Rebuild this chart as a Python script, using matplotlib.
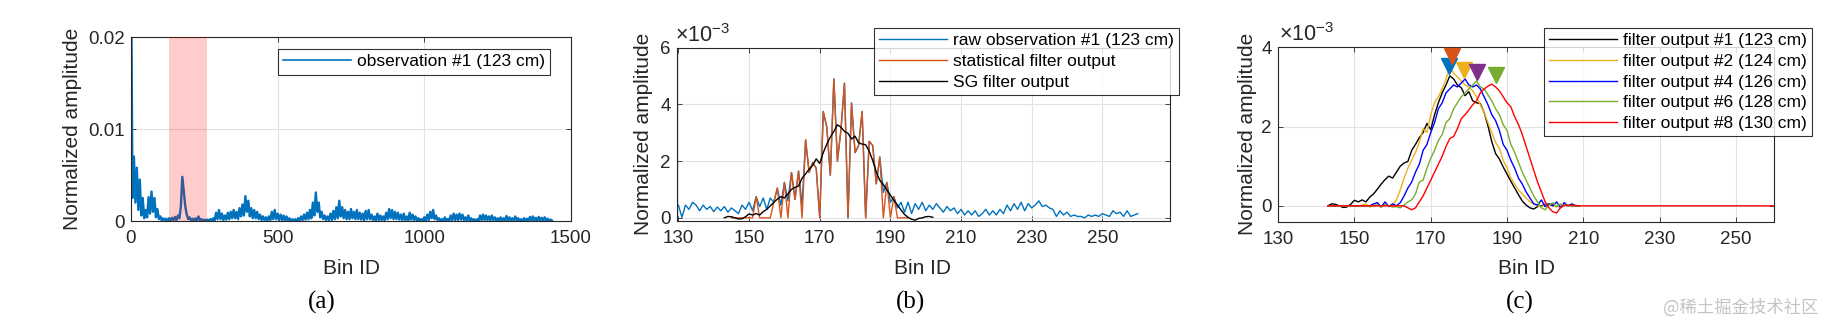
import numpy as np
import matplotlib
matplotlib.use("Agg")
import matplotlib.pyplot as plt

plt.rcParams['font.family'] = ['Liberation Sans', 'DejaVu Sans']
plt.rcParams['mathtext.fontset'] = 'custom'
plt.rcParams['mathtext.rm'] = 'Liberation Sans'
plt.rcParams['mathtext.it'] = 'Liberation Sans:italic'

# ---------------------------------------------------------------------------
# Data (amplitudes in units of 1e-3)
# ---------------------------------------------------------------------------
# (a) whole observation, sampled every 5 bins
obs_bins = np.arange(0, 1440, 5)
obs_amp = [
    30.0, 2.5, 7.0, 2.0, 5.8, 1.2, 4.5, 0.6, 2.5, 0.3, 1.2, 0.4, 2.6, 0.8, 3.2, 1.0, 2.5, 0.4, 1.3, 0.2,
    0.5, 0.05, 0.3, 0.05, 0.25, 0.05, 0.3, 0.05, 0.35, 0.1, 0.45, 0.1, 0.6, 0.3, 1.6, 4.8, 3.2, 1.6, 0.7, 0.2,
    0.4, 0.05, 0.25, 0.05, 0.3, 0.05, 0.5, 0.1, 0.2, 0.02, 0.15, 0.02, 0.15, 0.02, 0.2, 0.05, 0.3, 0.05, 0.9, 0.2,
    1.2, 0.2, 0.8, 0.1, 0.6, 0.15, 0.9, 0.2, 1.0, 0.3, 1.2, 0.3, 1.0, 0.2, 1.4, 0.5, 1.8, 0.6, 2.7, 1.0,
    2.2, 0.5, 1.4, 0.3, 1.2, 0.3, 1.0, 0.2, 0.7, 0.1, 0.5, 0.1, 0.4, 0.05, 0.5, 0.1, 1.0, 0.2, 1.2, 0.2,
    0.8, 0.1, 0.7, 0.1, 0.6, 0.05, 0.5, 0.05, 0.3, 0.02, 0.2, 0.02, 0.2, 0.02, 0.3, 0.05, 0.5, 0.1, 0.7, 0.15,
    0.9, 0.2, 1.2, 0.3, 2.0, 0.6, 3.1, 1.0, 2.0, 0.4, 1.0, 0.2, 0.6, 0.1, 0.5, 0.1, 0.8, 0.1, 1.1, 0.2,
    1.5, 0.3, 2.2, 0.5, 1.5, 0.3, 1.2, 0.2, 1.0, 0.2, 1.3, 0.3, 1.0, 0.2, 1.2, 0.2, 0.9, 0.15, 0.8, 0.1,
    1.1, 0.2, 1.2, 0.2, 0.7, 0.1, 0.5, 0.05, 0.8, 0.1, 0.6, 0.1, 0.5, 0.1, 0.9, 0.2, 1.3, 0.3, 1.2, 0.2,
    1.0, 0.2, 0.9, 0.15, 0.7, 0.1, 0.8, 0.1, 0.5, 0.05, 0.9, 0.15, 0.7, 0.1, 0.5, 0.05, 0.3, 0.05, 0.2, 0.03,
    0.4, 0.05, 0.7, 0.1, 1.0, 0.3, 1.2, 0.2, 0.6, 0.1, 0.3, 0.03, 0.2, 0.02, 0.4, 0.05, 0.2, 0.03, 0.6, 0.1,
    0.8, 0.1, 0.7, 0.1, 0.8, 0.15, 0.7, 0.1, 0.4, 0.05, 0.6, 0.05, 0.3, 0.03, 0.2, 0.02, 0.2, 0.02, 0.6, 0.1,
    0.7, 0.1, 0.6, 0.1, 0.5, 0.05, 0.6, 0.1, 0.4, 0.05, 0.3, 0.03, 0.4, 0.05, 0.3, 0.05, 0.55, 0.05, 0.4, 0.05,
    0.3, 0.03, 0.5, 0.05, 0.3, 0.03, 0.2, 0.02, 0.3, 0.03, 0.25, 0.02, 0.45, 0.05, 0.5, 0.05, 0.35, 0.03, 0.45, 0.05,
    0.35, 0.03, 0.4, 0.05, 0.25, 0.03, 0.15, 0.05,
]
roi_start, roi_end = 130, 260

# (b) raw observation, statistical filter and Savitzky-Golay filter
raw_bins = np.arange(130, 261)
raw_amp = [
    0.45, 0.02, 0.45, 0.30, 0.55, 0.45, 0.25, 0.45, 0.30, 0.40,
    0.22, 0.38, 0.25, 0.40, 0.20, 0.35, 0.25, 0.15, 0.45, 0.30,
    0.55, 0.25, 0.75, 0.40, 0.70, 0.30, 0.70, 0.55, 1.05, 0.45,
    1.25, 0.60, 1.60, 0.65, 1.65, 0.45, 2.75, 1.60, 1.95, 1.75,
    0.00, 3.75, 3.20, 1.50, 4.90, 2.00, 3.10, 4.75, 0.00, 4.05,
    2.30, 2.55, 3.75, 0.00, 2.70, 2.55, 1.20, 2.15, 0.90, 1.25,
    0.55, 0.75, 0.35, 0.55, 0.20, 0.55, 0.15, 0.50, 0.30, 0.55,
    0.25, 0.45, 0.30, 0.50, 0.35, 0.20, 0.40, 0.25, 0.35, 0.15,
    0.30, 0.10, 0.25, 0.10, 0.25, 0.05, 0.15, 0.30, 0.10, 0.25,
    0.10, 0.30, 0.15, 0.45, 0.25, 0.50, 0.30, 0.55, 0.25, 0.50,
    0.35, 0.45, 0.60, 0.40, 0.45, 0.35, 0.30, 0.05, 0.25, 0.10,
    0.20, 0.05, 0.10, 0.05, 0.05, 0.00, 0.10, 0.05, 0.10, 0.05,
    0.15, 0.10, 0.05, 0.25, 0.15, 0.20, 0.05, 0.25, 0.05, 0.10,
    0.15,
]
stat_bins = np.arange(145, 196)
stat_amp = [
    0, 0, 0, 0, 0,
    0, 0, 0.75, 0, 0, 0, 0, 0.55, 1.05, 0,
    1.25, 0, 1.60, 0.65, 1.65, 0, 2.75, 1.60, 1.95, 1.75,
    0, 3.75, 3.20, 1.50, 4.90, 2.00, 3.10, 4.75, 0, 4.05,
    2.30, 2.55, 3.75, 0, 2.70, 2.55, 1.20, 2.15, 0, 1.25,
    0, 0.75, 0, 0, 0, 0,
]
sg_bins = np.arange(143, 203)
sg_amp = [
    0.00, 0.05, 0.04, 0.00, -0.04, -0.03, 0.04, 0.14, 0.10, 0.15,
    0.10, 0.22, 0.30, 0.42, 0.55, 0.66, 0.75, 0.70, 0.85, 1.00,
    1.08, 1.12, 1.40, 1.55, 1.72, 1.85, 2.08, 1.92, 2.30, 2.60,
    2.85, 3.05, 3.28, 3.20, 3.05, 2.98, 2.78, 2.88, 2.65, 2.60,
    2.58, 2.35, 2.02, 1.62, 1.32, 1.18, 0.98, 0.80, 0.62, 0.45,
    0.28, 0.12, 0.02, -0.05, -0.08, -0.02, 0.00, 0.04, 0.05, 0.02,
]

# (c) filter outputs for successive observations
out_bins = np.arange(143, 210)
out2_amp = [
    0, 0, 0, 0, 0, 0, 0, 0, 0, 0.02,
    0.05, -0.03, 0.00, 0.08, -0.02, 0.05, 0.00, 0.02, 0.15, 0.40,
    0.70, 0.95, 1.15, 1.35, 1.60, 1.95, 1.85, 2.30, 2.60, 2.75,
    2.95, 3.20, 3.50, 3.35, 3.25, 3.15, 3.05, 3.00, 2.90, 2.75,
    2.55, 2.35, 2.10, 1.85, 1.60, 1.45, 1.15, 0.95, 0.70, 0.55,
    0.40, 0.30, 0.20, 0.10, 0.05, 0.00, -0.02, 0.02, 0.05, 0.00,
    -0.03, 0.02, 0.00, 0.03, 0.00, 0.02, 0.00,
]
out4_amp = [
    0, 0, 0, 0, 0, 0, 0, 0, 0, 0,
    0, 0, 0.05, 0.08, -0.03, 0.10, -0.02, 0.05, 0.00, 0.08,
    0.25, 0.45, 0.60, 0.85, 1.05, 1.40, 1.55, 1.85, 2.10, 2.45,
    2.60, 2.85, 2.95, 3.05, 3.00, 3.10, 3.20, 3.05, 3.00, 3.05,
    2.95, 2.75, 2.55, 2.30, 2.15, 1.90, 1.55, 1.40, 1.15, 0.95,
    0.70, 0.55, 0.35, 0.20, 0.05, 0.02, 0.15, -0.02, 0.05, 0.00,
    0.10, -0.05, 0.08, 0.00, 0.05, 0.00, 0.00,
]
out6_amp = [
    0, 0, 0, 0, 0, 0, 0, 0, 0, 0,
    0, 0, 0, 0.02, -0.03, 0.02, 0.00, -0.03, -0.02, -0.05,
    0.02, 0.10, 0.15, 0.30, 0.60, 0.65, 0.95, 1.20, 1.40, 1.65,
    1.80, 2.10, 2.20, 2.45, 2.60, 2.75, 2.85, 2.95, 3.05, 3.15,
    3.00, 2.95, 2.80, 2.65, 2.45, 2.30, 2.05, 1.90, 1.55, 1.35,
    1.10, 0.85, 0.65, 0.45, 0.25, 0.10, -0.05, -0.10, 0.02, 0.08,
    -0.02, 0.05, 0.00, 0.03, -0.02, 0.00, 0.00,
]
out8_bins = np.arange(143, 261)
out8_amp = [
    0, 0, 0, 0, 0, 0, 0, 0, 0, 0,
    0, 0, 0, 0, 0, 0, 0, 0, 0, 0,
    0, -0.05, -0.10, -0.05, 0.10, 0.25, 0.45, 0.65, 0.85, 1.05,
    1.25, 1.50, 1.70, 1.75, 1.95, 2.20, 2.30, 2.42, 2.55, 2.65,
    2.85, 2.95, 3.02, 3.07, 3.00, 2.90, 2.75, 2.60, 2.50, 2.25,
    2.05, 1.80, 1.50, 1.20, 0.90, 0.60, 0.35, 0.10, -0.05, -0.15,
    -0.18, -0.05, 0.02, 0.00, 0.02, 0.00, 0.00,
] + [0.0] * 51

# peak markers
peak_bins = [174.7, 175.7, 178.6, 182.0, 187.0]
peak_marks = [3.54, 3.78, 3.42, 3.38, 3.30]
peak_colors = ['#0072BD', '#D95319', '#EDB120', '#7E2F8E', '#77AC30']

# ---------------------------------------------------------------------------
# Figure
# ---------------------------------------------------------------------------
W, H = 1826, 324
AX_COLOR = '#262626'
GRID_COLOR = '#e2e2e2'
TICK_FS = 13.5
LABEL_FS = 15
LEG_FS = 12.5

fig = plt.figure(figsize=(W / 100, H / 100), dpi=100)


def axes_px(left, top, right, bottom):
    return fig.add_axes([left / W, 1 - bottom / H, (right - left) / W, (bottom - top) / H])


def style(ax, xc, yc_px, ylab_x):
    ax.tick_params(direction='in', length=3.5, width=0.6, top=True, right=True,
                   labelsize=TICK_FS, colors=AX_COLOR)
    ax.tick_params(axis='x', pad=6.5)
    ax.tick_params(axis='y', pad=4.5)
    for s in ax.spines.values():
        s.set_color(AX_COLOR)
        s.set_linewidth(0.8)
    ax.grid(True, color=GRID_COLOR, lw=0.8)
    ax.set_axisbelow(True)
    ax.set_xlabel('Bin ID', fontsize=LABEL_FS, color=AX_COLOR)
    ax.set_ylabel('Normalized amplitude', fontsize=LABEL_FS, color=AX_COLOR)
    ax.xaxis.set_label_coords(xc / W, 1 - 268 / H, transform=fig.transFigure)
    ax.xaxis.label.set_verticalalignment('center')
    ax.yaxis.set_label_coords(ylab_x / W, 1 - yc_px / H, transform=fig.transFigure)
    ax.yaxis.label.set_verticalalignment('center')


def legend_at(ax, x_px, y_px, spacing):
    leg = ax.legend(loc='upper left', bbox_to_anchor=(x_px / W, 1 - y_px / H),
                    bbox_transform=fig.transFigure, fontsize=LEG_FS, frameon=True,
                    fancybox=False, shadow=False, borderaxespad=0, borderpad=0.3,
                    handlelength=3.9, handletextpad=0.35, labelspacing=spacing)
    leg.get_frame().set_edgecolor('black')
    leg.get_frame().set_linewidth(0.8)
    leg.set_zorder(10)
    return leg


# ---- (a)
ax_a = axes_px(131, 37, 571, 221)
ax_a.plot(obs_bins, np.array(obs_amp) * 1e-3, color='#0072BD', lw=1.7,
          label='observation #1 (123 cm)')
ax_a.axvspan(roi_start, roi_end, color='red', alpha=0.2, lw=0, zorder=3)
ax_a.set_xlim(0, 1500)
ax_a.set_ylim(0, 0.02)
ax_a.set_xticks([0, 500, 1000, 1500])
ax_a.set_yticks([0, 0.01, 0.02])
ax_a.set_yticklabels(['0', '0.01', '0.02'])
style(ax_a, 351, 129, 72)
leg_a = legend_at(ax_a, 278, 49, 0.3)
leg_a.get_lines()[0].set_linewidth(1.2)

# ---- (b)
ax_b = axes_px(677, 47.7, 1169.5, 220.7)
ax_b.plot(raw_bins, raw_amp, color='#0072BD', lw=1.0, label='raw observation #1 (123 cm)')
ax_b.plot(stat_bins, stat_amp, color='#D95319', lw=1.0, label='statistical filter output')
ax_b.plot(sg_bins, sg_amp, color='black', lw=1.0, label='SG filter output')
ax_b.set_xlim(129.6, 269)
ax_b.set_ylim(-0.1, 6)
ax_b.set_xticks(np.arange(130, 260, 20))
ax_b.set_yticks([0, 2, 4, 6])
style(ax_b, 923, 134, 643)
legend_at(ax_b, 874, 28, 0.33)
fig.text(675 / W, 1 - 42 / H, '\u00d710$^{-3}$', fontsize=15.5, color=AX_COLOR,
         ha='left', va='baseline')

# ---- (c)
ax_c = axes_px(1278.2, 47.3, 1774, 221.7)
ax_c.plot(sg_bins, sg_amp, color='black', lw=1.0, label='filter output #1 (123 cm)')
ax_c.plot(out_bins, out2_amp, color='#EDB120', lw=1.0, label='filter output #2 (124 cm)')
ax_c.plot(out_bins, out4_amp, color='#0000FF', lw=1.0, label='filter output #4 (126 cm)')
ax_c.plot(out_bins, out6_amp, color='#77AC30', lw=1.0, label='filter output #6 (128 cm)')
ax_c.plot(out8_bins, out8_amp, color='#FF0000', lw=1.0, label='filter output #8 (130 cm)')
for xb, yb, cb in zip(peak_bins, peak_marks, peak_colors):
    ax_c.plot([xb], [yb], marker='v', ms=11.5, color=cb, mec=cb, ls='none', zorder=5)
ax_c.set_xlim(130, 260)
ax_c.set_ylim(-0.4, 4)
ax_c.set_xticks(np.arange(130, 260, 20))
ax_c.set_yticks([0, 2, 4])
style(ax_c, 1526, 134, 1247)
legend_at(ax_c, 1544, 28, 0.32)
fig.text(1279 / W, 1 - 41 / H, '\u00d710$^{-3}$', fontsize=15.5, color=AX_COLOR,
         ha='left', va='baseline')

# ---- captions
for xc, cap in [(322, '(a)'), (910, '(b)'), (1520, '(c)')]:
    fig.text(xc / W, 1 - 302 / H, cap, ha='center', va='center',
             family='Liberation Serif', fontsize=18, color='black')

fig.text(1663 / W, 1 - 308 / H, '@稀土掘金技术社区', ha='left', va='center',
         color='#c4c4c4', fontsize=12.5, family=['Noto Sans CJK SC', 'DejaVu Sans'])

fig.savefig('out.png', dpi=100)
